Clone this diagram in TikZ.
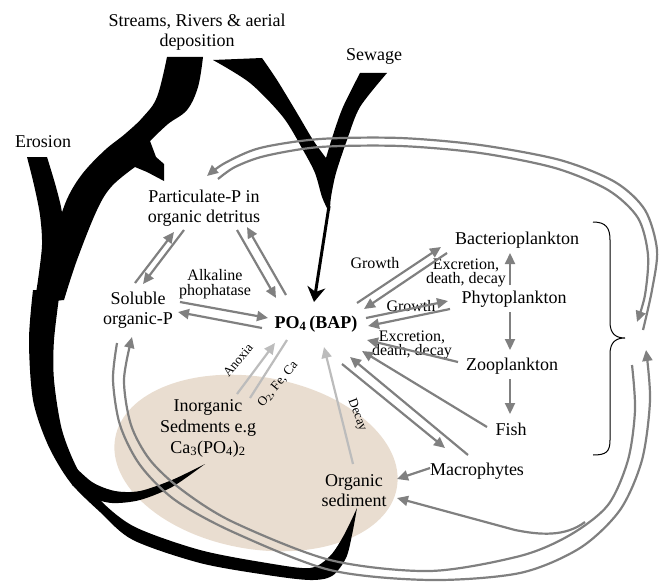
\documentclass[tikz,border=0pt]{standalone}
\usepackage{fontspec}
\setmainfont{Liberation Serif}
\usetikzlibrary{arrows.meta}
\definecolor{sedbeige}{RGB}{233,221,208}
\definecolor{flowgray}{RGB}{128,128,128}
\definecolor{lightflow}{RGB}{188,188,188}
\tikzset{
  lbl/.style={font=\fontsize{18}{20}\selectfont, align=center, inner sep=1pt},
  sml/.style={font=\fontsize{16}{14.5}\selectfont, align=center, inner sep=1pt},
  tny/.style={font=\fontsize{13}{13}\selectfont, inner sep=0.5pt},
  garr/.style={draw=flowgray, line width=2.2pt, -{Triangle[length=11pt,width=10pt]}},
  gline/.style={draw=flowgray, line width=2.2pt},
  larr/.style={draw=lightflow, line width=2.2pt, -{Triangle[length=11pt,width=10pt]}},
  lline/.style={draw=lightflow, line width=2.2pt},
}

\begin{document}
\begin{tikzpicture}[x=1pt,y=-1pt]
\useasboundingbox (0,0) rectangle (660,583);

% sediment patch
\fill[sedbeige, rotate around={-10:(256,463)}] (256,463) ellipse (143 and 86);

% black inputs: streams (left branch), erosion, big loop, branch to sediments
\fill plot[smooth, tension=0.6] coordinates {(167,57) (157,97) (143,117) (125,134) (105,150) (83,173) (68,197) (58,225) (48,260) (40,300)}
  -- plot[smooth, tension=0.6] coordinates {(64,300) (77,260) (97,210) (112,186) (135,167)}
  -- (147,172) -- (164,181) -- (164,164) -- (156,157) -- (150,141)
  -- plot[smooth, tension=0.6] coordinates {(150,141) (168,124) (187,110) (198,87) (203,57)} -- cycle;
\fill plot[smooth] coordinates {(27,157) (34,185) (40,215) (42,245) (38,280) (34,305)}
  -- (62,300) -- plot[smooth] coordinates {(62,290) (62,240) (62,213) (56,187) (47,157)} -- cycle;
\fill plot[smooth] coordinates {(33,290) (29,340) (33,400) (48,445) (70,482) (100,512) (133,540) (200,563) (267,575) (310,580) (332,576) (346,558) (352,535) (357,508)}
  -- plot[smooth] coordinates {(357,508) (344,535) (330,556) (310,568) (267,563) (200,550) (135,527) (100,500) (78,470) (62,430) (54,380) (54,340) (60,290)} -- cycle;
\fill plot[smooth] coordinates {(70,462) (92,482) (115,491) (140,491) (172,480) (205,464)}
  -- plot[smooth] coordinates {(205,464) (172,487) (140,500) (112,503) (90,497) (72,485)} -- cycle;

% black inputs: streams (right branch) and sewage
\fill plot[smooth] coordinates {(213,60) (250,83) (283,117) (303,150) (315,173) (322,197) (328,210)}
  -- plot[smooth] coordinates {(330,210) (331,197) (336,173) (347,140) (360,107) (387,73)}
  -- (360,73) -- plot[smooth] coordinates {(360,73) (343,107) (333,135) (326,158)}
  -- plot[smooth] coordinates {(326,158) (313,140) (297,113) (277,80) (262,58)} -- cycle;
\coordinate (sewend) at (329,206);

% labels
\node[lbl] (streams) at (197,32) {Streams, Rivers \& aerial\\deposition};
\node[lbl] (sewage) at (374,56) {Sewage};
\node[lbl] (erosion) at (43,142) {Erosion};
\node[lbl] (part) at (204,208) {Particulate-P in\\organic detritus};
\node[lbl] (sol) at (138,310) {Soluble\\organic-P};
\node[sml] (alk) at (215,284) {Alkaline\\phophatase};
\node[lbl, font=\fontsize{18}{20}\selectfont\bfseries] (po4) at (316,324) {PO\textsubscript{4}\,(BAP)};
\node[lbl] (bact) at (517,240) {Bacterioplankton};
\node[lbl] (phyto) at (514,299) {Phytoplankton};
\node[lbl] (zoo) at (512,366) {Zooplankton};
\node[lbl] (fish) at (511,429) {Fish};
\node[lbl] (macro) at (477,471) {Macrophytes};
\node[lbl] (orgsed) at (354,491) {Organic\\sediment};
\node[lbl, font=\fontsize{18}{21}\selectfont] (inorg) at (208,428) {Inorganic\\Sedments e.g\\Ca\textsubscript{3}(PO\textsubscript{4})\textsubscript{2}};
\node[sml] (grow1) at (375,263) {Growth};
\node[sml] (excr1) at (466,273) {Excretion,\\death, decay};
\node[sml] (grow2) at (411,306) {Growth};
\node[sml] (excr2) at (412,345) {Excretion,\\death, decay};
\node[tny, rotate=50] (anox) at (238,360) {Anoxia};
\node[tny, rotate=50] (oxy) at (278,384) {O\textsubscript{2}, Fe, Ca};
\node[tny, rotate=-69] (decay) at (357,415) {Decay};

% brace round the plankton
\draw[line width=1pt] (593,222) .. controls (606,222) and (610,228) .. (610,240) -- (610,322)
  .. controls (610,334) and (616,338) .. (625,338) .. controls (616,338) and (610,342) .. (610,354)
  -- (610,440) .. controls (610,452) and (606,455) .. (593,455);
\coordinate (grp) at (627,338);

% sewage and streams into PO4
\draw[line width=3pt, -{Stealth[length=15pt,width=18pt]}] (sewend) -- ([shift={(-2,-22)}]po4.center);

% exchanges round PO4
\draw[garr] ([shift={(-3,-27)}]sol.center) -- ([shift={(-30,24)}]part.center);
\draw[garr] ([shift={(-20,22)}]part.center) -- ([shift={(5,-26)}]sol.center);
\draw[garr] ([shift={(33,22)}]part.center) -- ([shift={(-40,-26)}]po4.center);
\draw[garr] ([shift={(-30,-29)}]po4.center) -- ([shift={(43,19)}]part.center);
\draw[garr] ([shift={(42,-8)}]sol.center) -- ([shift={(-48,-6)}]po4.center);
\draw[garr] ([shift={(-54,4)}]po4.center) -- ([shift={(40,2)}]sol.center);
\draw[garr] ([shift={(41,-21)}]po4.center) -- ([shift={(-76,7)}]bact.center);
\draw[garr] ([shift={(-70,13)}]bact.center) -- ([shift={(48,-15)}]po4.center);
\draw[garr] ([shift={(50,-6)}]po4.center) -- ([shift={(-66,2)}]phyto.center);
\draw[garr] ([shift={(-64,10)}]phyto.center) -- ([shift={(52,2)}]po4.center);
\draw[garr] ([shift={(-54,-4)}]zoo.center) -- ([shift={(51,16)}]po4.center);
\draw[garr] ([shift={(-24,-2)}]fish.center) -- ([shift={(46,27)}]po4.center);
\draw[garr] ([shift={(-9,-16)}]macro.center) -- ([shift={(34,33)}]po4.center);
\draw[garr] ([shift={(26,40)}]po4.center) -- ([shift={(-32,-23)}]macro.center);
\draw[garr] ([shift={(-4,-14)}]phyto.center) -- ([shift={(-7,13)}]bact.center);
\draw[garr] ([shift={(-4,13)}]phyto.center) -- ([shift={(-2,-16)}]zoo.center);
\draw[garr] ([shift={(-2,13)}]zoo.center) -- ([shift={(-1,-15)}]fish.center);
\draw[garr] ([shift={(-47,-3)}]macro.center) -- ([shift={(43,-12)}]orgsed.center);
\draw[larr] ([shift={(-1,-27)}]orgsed.center) -- ([shift={(8,23)}]po4.center);
\draw[larr] ([shift={(29,-34)}]inorg.center) -- ([shift={(-41,19)}]po4.center);
\draw[lline] ([shift={(-29,16)}]po4.center) -- ([shift={(42,-30)}]inorg.center);

% long loops to and from the plankton
\draw[garr] plot[smooth] coordinates {([shift={(16,-8)}]grp) (652,290) (657,250) (645,210) (615,182) (560,160) (480,145) (400,138) (320,139) (260,148) (225,163) ([shift={(3,-32)}]part.center)};
\draw[garr] plot[smooth] coordinates {([shift={(14,-29)}]part.center) (235,167) (265,156) (320,147) (400,146) (480,153) (555,168) (608,190) (638,218) (648,255) (645,295) ([shift={(10,-16)}]grp)};
\draw[garr] plot[smooth] coordinates {([shift={(-21,33)}]sol.center) (113,380) (120,425) (140,465) (175,500) (233,532) (330,570) (430,580) (520,573) (580,548) (620,510) (642,460) (650,400) ([shift={(19,12)}]grp)};
\draw[garr] plot[smooth] coordinates {([shift={(5,27)}]grp) (635,410) (628,460) (608,505) (570,535) (520,556) (430,571) (330,560) (233,522) (182,490) (150,460) (131,425) (124,380) ([shift={(-6,27)}]sol.center)};
\coordinate (lbr) at (585,522);
\draw[garr] (lbr) .. controls (565,537) and (540,535) .. (515,530) -- ([shift={(43,7)}]orgsed.center);

\end{tikzpicture}
\end{document}
